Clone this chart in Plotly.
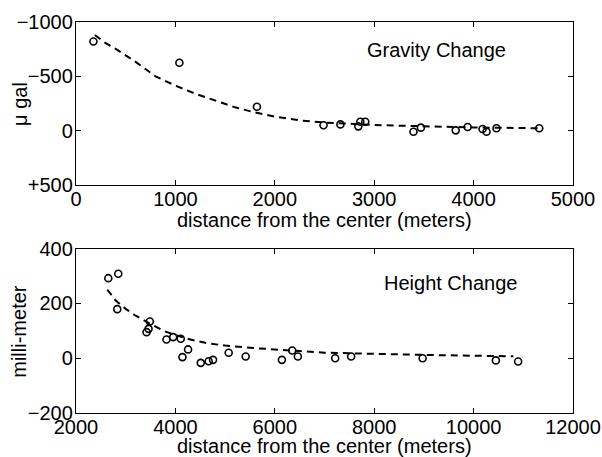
import plotly.graph_objects as go
from plotly.subplots import make_subplots

# gravity change (micro gal), positive = down on the plot
grav_x = [175, 1040, 1820, 2490, 2660, 2840, 2860, 2910, 3395, 3470, 3820, 3940, 4090, 4130, 4230, 4660]
grav_y = [-820, -625, -220, -50, -58, -40, -82, -82, 9, -28, -3, -34, -16, 9, -22, -22]
grav_fit_x = [190, 290, 400, 600, 800, 1000, 1200, 1400, 1600, 1800, 2000, 2250, 2500, 3000, 3500, 4000, 4700]
grav_fit_y = [-880, -810, -753, -633, -500, -415, -340, -275, -215, -168, -130, -95, -75, -52, -38, -30, -22]

# height change (mm)
hgt_x = [2650, 2850, 2830, 3486, 3420, 3460, 3820, 3955, 4108, 4142, 4255, 4510, 4670, 4757,
         5072, 5414, 6143, 6351, 6464, 7215, 7536, 8974, 10448, 10896]
hgt_y = [292, 308, 179, 134, 95, 107, 68, 77, 71, 4, 32, -17, -11, -6,
         20, 6, -6, 28, 6, 0, 6, 0, -8, -12]
hgt_fit_x = [2630, 2800, 3000, 3200, 3500, 3800, 4000, 4300, 4600, 5000, 5500, 6000, 6500, 7000, 8000, 9000, 10000, 10800]
hgt_fit_y = [250, 210, 180, 155, 125, 97, 85, 68, 56, 46, 38, 31, 26, 20, 15, 12, 9, 7]

grav_ticks = [-1000, -500, 0, 500]
grav_ticktext = ["\u22121000", "\u2212500", "0", "+500"]
hgt_ticks = [-200, 0, 200, 400]
hgt_ticktext = ["\u2212200", "0", "200", "400"]

FONT = "Liberation Sans, Arial, Helvetica, sans-serif"
FS = 20

fig = make_subplots(rows=2, cols=1)

dash = "7px,5px"
mk = dict(symbol="circle-open", size=7, color="black", line=dict(width=1.6, color="black"))

fig.add_trace(go.Scatter(x=grav_fit_x, y=grav_fit_y, mode="lines",
                         line=dict(color="black", width=2, dash=dash)), row=1, col=1)
fig.add_trace(go.Scatter(x=grav_x, y=grav_y, mode="markers", marker=mk), row=1, col=1)
fig.add_trace(go.Scatter(x=hgt_fit_x, y=hgt_fit_y, mode="lines",
                         line=dict(color="black", width=2, dash=dash)), row=2, col=1)
fig.add_trace(go.Scatter(x=hgt_x, y=hgt_y, mode="markers", marker=mk), row=2, col=1)

ax = dict(showline=True, linecolor="black", linewidth=1.3, mirror="ticks", automargin=False,
          ticks="inside", ticklen=5, tickcolor="black", showgrid=False, zeroline=False,
          tickfont=dict(size=FS, color="black", family=FONT))

fig.update_xaxes(**ax)
fig.update_yaxes(**ax)

fig.update_xaxes(range=[0, 5000], dtick=1000, tickformat="d", ticklabelstandoff=-4, row=1, col=1)
fig.update_xaxes(range=[2000, 12000], dtick=2000, tickformat="d", ticklabelstandoff=-4, row=2, col=1)
fig.update_yaxes(range=[500, -1000], tickvals=grav_ticks, ticktext=grav_ticktext,
                 domain=[0.583, 1.0], ticklabelstandoff=-2, row=1, col=1)
fig.update_yaxes(range=[-200, 400], tickvals=hgt_ticks, ticktext=hgt_ticktext,
                 domain=[0, 0.4205], ticklabelstandoff=-2, row=2, col=1)

txt = dict(showarrow=False, xanchor="center", yanchor="middle",
           font=dict(size=FS, color="black", family=FONT))
fig.add_annotation(x=3630, y=-747, xref="x", yref="y", text="Gravity Change", **txt)
fig.add_annotation(x=9540, y=275, xref="x2", yref="y2", text="Height Change", **txt)
fig.add_annotation(x=-0.113, y=0.79, xref="paper", yref="paper", text="\u03bc gal", textangle=-90, **txt)
fig.add_annotation(x=-0.115, y=0.21, xref="paper", yref="paper", text="milli-meter", textangle=-90, **txt)
fig.add_annotation(x=0.5, y=0.494, xref="paper", yref="paper", text="distance from the center (meters)", **txt)
fig.add_annotation(x=0.5, y=-0.085, xref="paper", yref="paper", text="distance from the center (meters)", **txt)

fig.update_layout(width=602, height=457, showlegend=False,
                  margin=dict(l=76, r=29, t=22, b=44, autoexpand=False),
                  plot_bgcolor="white", paper_bgcolor="white",
                  font=dict(family=FONT, color="black"))

# page has a default body margin; drop it so the figure sits at the window corner
fig.write_html("out.html", config={"displayModeBar": False},
               post_script="document.body.style.margin='0';")
